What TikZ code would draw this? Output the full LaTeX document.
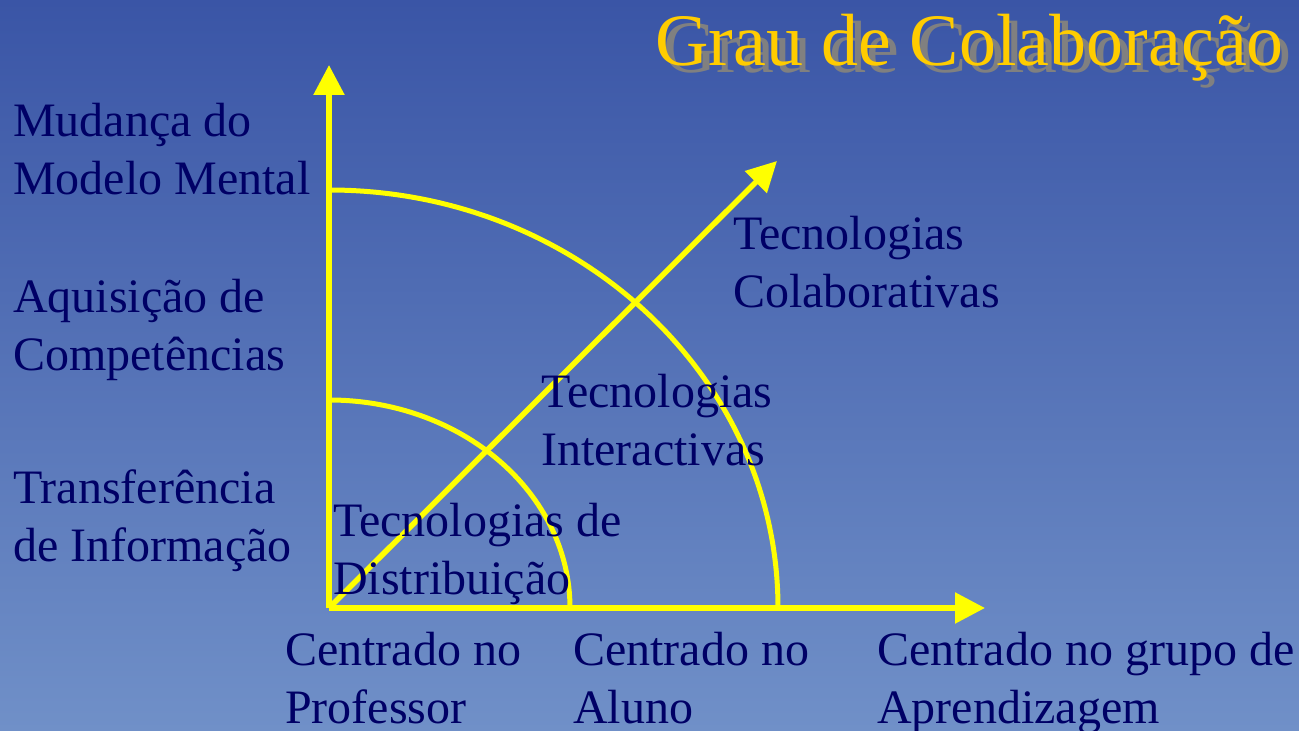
\documentclass[tikz,border=0pt]{standalone}
\usepackage{fontspec}
\setmainfont{Liberation Serif}
\usetikzlibrary{arrows.meta}
\definecolor{bgtop}{HTML}{3A55A6}
\definecolor{bgbot}{HTML}{7090C8}
\definecolor{navy}{HTML}{000066}
\definecolor{axisyellow}{HTML}{FFFF00}
\definecolor{titleyellow}{HTML}{FFCC00}
\definecolor{shadowgray}{HTML}{808080}
\tikzset{
  lbl/.style={anchor=base west, align=left, inner sep=0pt, text=navy,
    font=\fontsize{48}{58}\selectfont},
  axisline/.style={draw=axisyellow, line width=5.5pt,
    -{Triangle[width=30pt,length=30pt]}},
  arcline/.style={draw=axisyellow, line width=5pt},
  titlefont/.style={anchor=base west, inner sep=0pt,
    font=\fontsize{74}{80}\selectfont}
}
\begin{document}
\begin{tikzpicture}[x=1pt,y=1pt]
  \useasboundingbox (0,0) rectangle (1299,731);
  \shade[top color=bgtop, bottom color=bgbot] (0,0) rectangle (1299,731);

  % title with shadow
  \node[titlefont, text=shadowgray] (titleshadow) at (663,658) {Grau de Colaboração};
  \node[titlefont, text=titleyellow] (title) at (655,665) {Grau de Colaboração};

  % axes
  \coordinate (O) at (329,123);
  \coordinate (ytip) at (329,666);
  \coordinate (xtip) at (985,123);
  \coordinate (dtip) at (777,570);
  \coordinate (inA) at (570,123);
  \coordinate (outA) at (778,123);

  \draw[arcline] (inA) arc[start angle=0, end angle=90, x radius=241, y radius=208];
  \draw[arcline] (outA) arc[start angle=0, end angle=90, x radius=449, y radius=418];

  \draw[axisline] (O) -- (ytip);
  \draw[axisline] (O) -- (xtip);
  \draw[axisline] (O) -- (dtip);

  % left labels (anchor = baseline of last line)
  \node[lbl] (mudanca) at (13,536) {Mudança do\\Modelo Mental};
  \node[lbl] (aquisicao) at (13,360) {Aquisição de\\Competências};
  \node[lbl] (transf) at (13,169) {Transferência\\de Informação};

  % inner labels
  \node[lbl] (distrib) at (333,136) {Tecnologias de\\Distribuição};
  \node[lbl] (interact) at (541,265) {Tecnologias\\Interactivas};
  \node[lbl] (colab) at (733,423) {Tecnologias\\Colaborativas};

  % bottom labels
  \node[lbl] (prof) at (285,7) {Centrado no\\Professor};
  \node[lbl] (aluno) at (573,7) {Centrado no\\Aluno};
  \node[lbl] (grupo) at (877,7) {Centrado no grupo de\\Aprendizagem};
\end{tikzpicture}
\end{document}
